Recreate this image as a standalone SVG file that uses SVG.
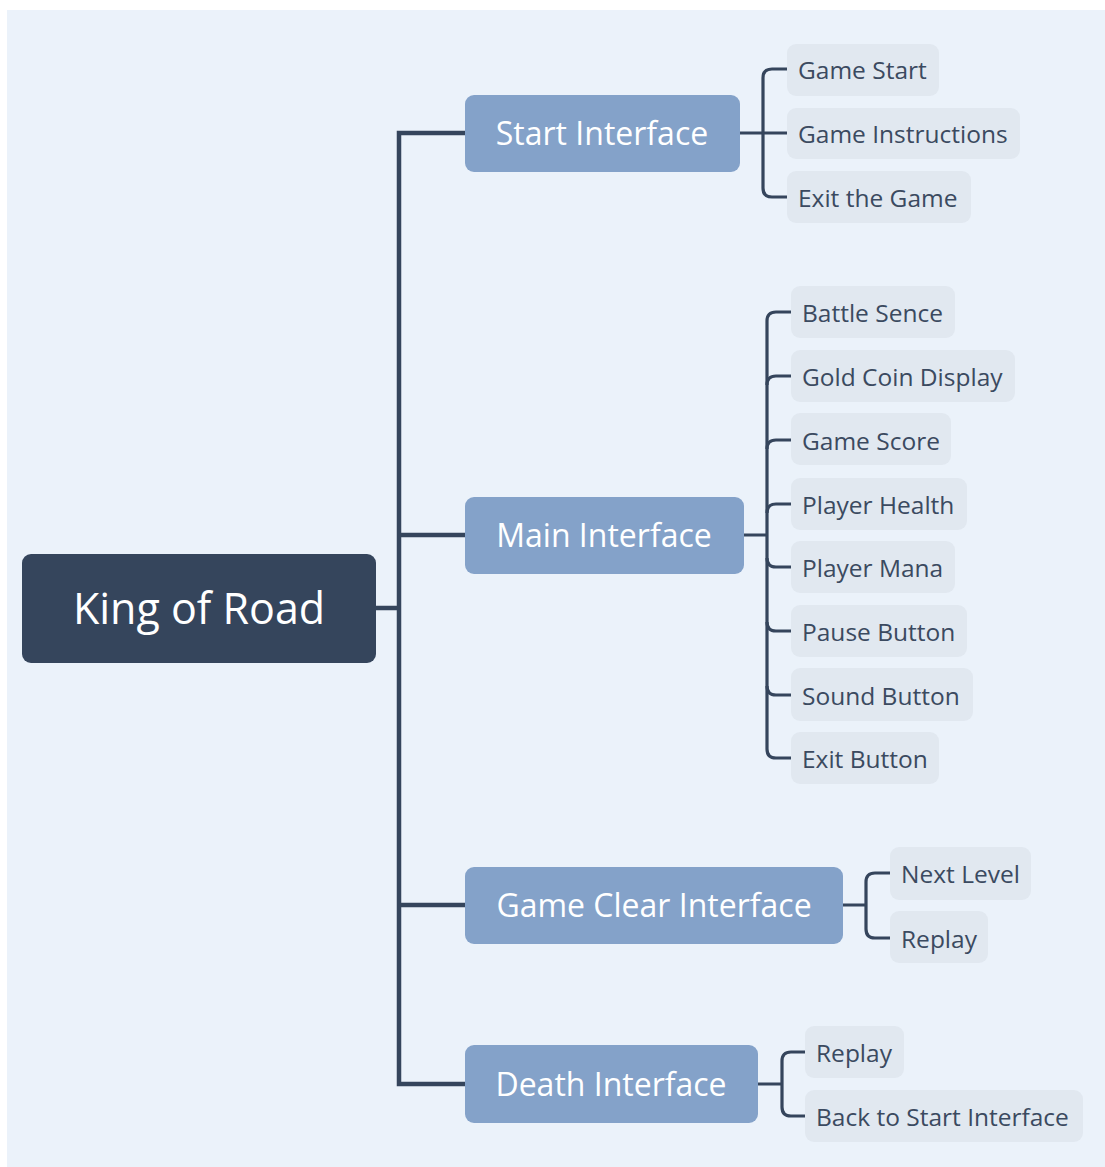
<svg xmlns="http://www.w3.org/2000/svg" width="1105" height="1167" viewBox="0 0 1105 1167">
<style>
.bg{fill:#ffffff}
.canvas{fill:#ebf2fa}
.root rect{fill:#35455c}
.root text{fill:#ffffff;font-family:"Open Sans","Liberation Sans",sans-serif;font-size:43px;text-anchor:middle;dominant-baseline:central}
.main rect{fill:#84a2c9}
.main text{fill:#ffffff;font-family:"Open Sans","Liberation Sans",sans-serif;font-size:32px;text-anchor:middle;dominant-baseline:central}
.sub rect{fill:#e1e8f0}
.sub text{fill:#3b4a60;font-family:"Open Sans","Liberation Sans",sans-serif;font-size:24.5px;dominant-baseline:central}
.trunk{fill:none;stroke:#35455c;stroke-width:4.5}
.br{fill:none;stroke:#35455c;stroke-width:3.2}
</style>
<rect class="bg" x="0" y="0" width="1105" height="1167"/>
<rect class="canvas" x="7" y="10" width="1098" height="1157"/>

<g id="connectors">
  <path class="trunk" d="M376 608 H399 M465 133 H399 V1084 H465 M399 535 H465 M399 905 H465"/>
  <path class="br" d="M740 133 H787 M787 69 H772 Q763 69 763 78 V188 Q763 197 772 197 H787"/>
  <path class="br" d="M744 535 H767 M791 312 H776 Q767 312 767 321 V749 Q767 758 776 758 H791"/>
  <path class="br" d="M767 385 Q767 376 776 376 H791 M767 449 Q767 440 776 440 H791 M767 513 Q767 504 776 504 H791 M767 558 Q767 567 776 567 H791 M767 622 Q767 631 776 631 H791 M767 686 Q767 695 776 695 H791"/>
  <path class="br" d="M843 905 H866 M890 873 H875 Q866 873 866 882 V929 Q866 938 875 938 H890"/>
  <path class="br" d="M758 1084 H782 M805 1052 H791 Q782 1052 782 1061 V1107 Q782 1116 791 1116 H805"/>
</g>

<g id="root" class="root"><rect x="22" y="554" width="354" height="109" rx="9"/><text x="199" y="607">King of Road</text></g>

<g id="start-interface" class="main"><rect x="465" y="95" width="275" height="77" rx="9"/><text x="602" y="132">Start Interface</text></g>
<g id="main-interface" class="main"><rect x="465" y="497" width="279" height="77" rx="9"/><text x="604" y="534">Main Interface</text></g>
<g id="game-clear-interface" class="main"><rect x="465" y="867" width="378" height="77" rx="9"/><text x="654" y="904">Game Clear Interface</text></g>
<g id="death-interface" class="main"><rect x="465" y="1045" width="293" height="78" rx="9"/><text x="611" y="1083">Death Interface</text></g>

<g id="game-start" class="sub"><rect x="787" y="44" width="152" height="52" rx="9"/><text x="798" y="69">Game Start</text></g>
<g id="game-instructions" class="sub"><rect x="787" y="108" width="233" height="51" rx="9"/><text x="798" y="133">Game Instructions</text></g>
<g id="exit-the-game" class="sub"><rect x="787" y="171" width="184" height="52" rx="9"/><text x="798" y="197">Exit the Game</text></g>

<g id="battle-sence" class="sub"><rect x="791" y="286" width="164" height="52" rx="9"/><text x="802" y="312">Battle Sence</text></g>
<g id="gold-coin-display" class="sub"><rect x="791" y="350" width="224" height="52" rx="9"/><text x="802" y="376">Gold Coin Display</text></g>
<g id="game-score" class="sub"><rect x="791" y="413" width="160" height="52" rx="9"/><text x="802" y="440">Game Score</text></g>
<g id="player-health" class="sub"><rect x="791" y="478" width="176" height="52" rx="9"/><text x="802" y="504">Player Health</text></g>
<g id="player-mana" class="sub"><rect x="791" y="541" width="164" height="52" rx="9"/><text x="802" y="567">Player Mana</text></g>
<g id="pause-button" class="sub"><rect x="791" y="605" width="176" height="52" rx="9"/><text x="802" y="631">Pause Button</text></g>
<g id="sound-button" class="sub"><rect x="791" y="668" width="182" height="53" rx="9"/><text x="802" y="695">Sound Button</text></g>
<g id="exit-button" class="sub"><rect x="791" y="732" width="148" height="52" rx="9"/><text x="802" y="758">Exit Button</text></g>

<g id="next-level" class="sub"><rect x="890" y="847" width="141" height="53" rx="9"/><text x="901" y="873">Next Level</text></g>
<g id="replay-clear" class="sub"><rect x="890" y="911" width="98" height="52" rx="9"/><text x="901" y="938">Replay</text></g>

<g id="replay-death" class="sub"><rect x="805" y="1026" width="99" height="52" rx="9"/><text x="816" y="1052">Replay</text></g>
<g id="back-to-start" class="sub"><rect x="805" y="1090" width="278" height="52" rx="9"/><text x="816" y="1116">Back to Start Interface</text></g>
</svg>
